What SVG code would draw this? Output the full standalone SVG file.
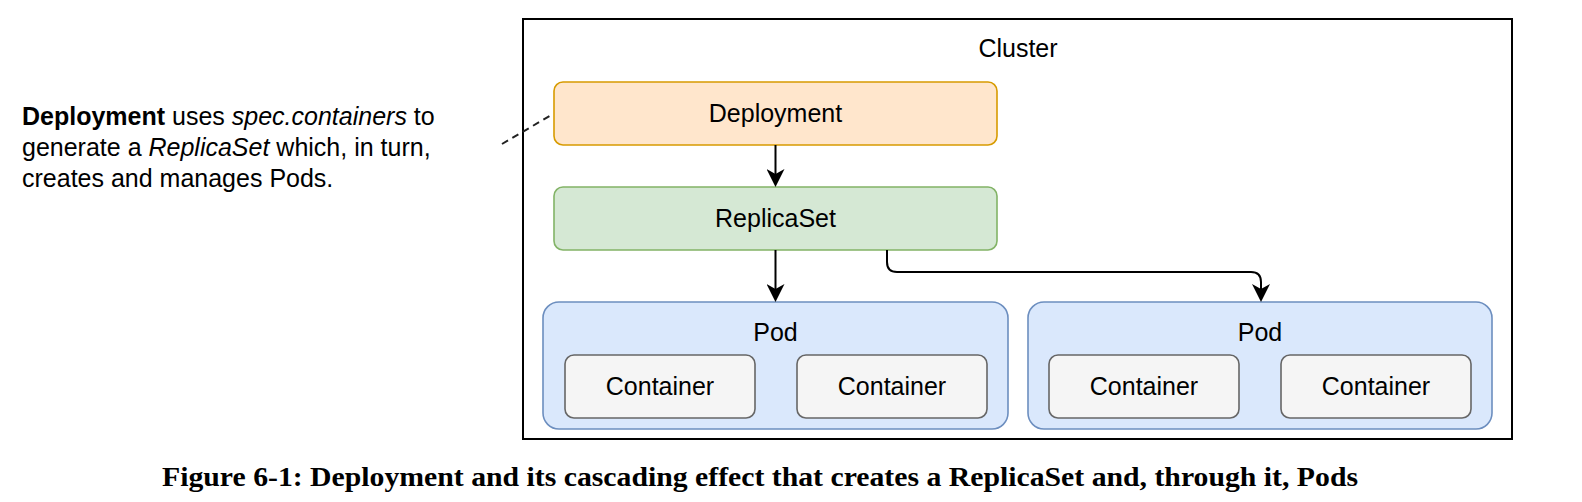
<svg xmlns="http://www.w3.org/2000/svg" width="1582" height="502" viewBox="0 0 1582 502">
  <style>
    .sans { font-family: "Liberation Sans", Arial, Helvetica, sans-serif; fill: #000; }
    .lbl { font-size: 25px; text-anchor: middle; }
    .note { font-size: 25px; }
    .cap { font-family: "Liberation Serif", "Times New Roman", serif; font-weight: bold; font-size: 27px; fill: #000; }
    .deploy { fill: #ffe6cc; stroke: #d79b00; stroke-width: 1.6; }
    .rs { fill: #d5e8d4; stroke: #82b366; stroke-width: 1.6; }
    .pod { fill: #dae8fc; stroke: #6c8ebf; stroke-width: 1.6; }
    .ctr { fill: #f5f5f5; stroke: #666666; stroke-width: 1.6; }
    .edge { fill: none; stroke: #000; stroke-width: 2; }
  </style>
  <defs>
    <marker id="arrow" viewBox="0 0 18 18" markerWidth="18" markerHeight="18" refX="12" refY="9" orient="auto" markerUnits="userSpaceOnUse">
      <path d="M0 0 L18 9 L0 18 L5 9 Z" fill="#000"/>
    </marker>
  </defs>
  <rect width="1582" height="502" fill="#fff"/>

  <g id="cluster">
    <rect x="523" y="19" width="989" height="420" fill="#fff" stroke="#000" stroke-width="2"/>
    <text class="sans lbl" x="1018" y="57">Cluster</text>
  </g>

  <g id="note">
    <text class="sans note" x="22" y="125"><tspan font-weight="bold">Deployment</tspan> uses <tspan font-style="italic">spec.containers</tspan> to</text>
    <text class="sans note" x="22" y="156">generate a <tspan font-style="italic">ReplicaSet</tspan> which, in turn,</text>
    <text class="sans note" x="22" y="187">creates and manages Pods.</text>
  </g>

  <g id="deployment">
    <rect class="deploy" x="554" y="82" width="443" height="63" rx="9"/>
    <text class="sans lbl" x="775.5" y="122">Deployment</text>
  </g>

  <g id="replicaset">
    <rect class="rs" x="554" y="187" width="443" height="63" rx="9"/>
    <text class="sans lbl" x="775.5" y="227">ReplicaSet</text>
  </g>

  <g id="pod1">
    <rect class="pod" x="543" y="302" width="465" height="127" rx="16"/>
    <text class="sans lbl" x="775.5" y="341">Pod</text>
  </g>
  <g id="pod1-container1">
    <rect class="ctr" x="565" y="355" width="190" height="63" rx="9"/>
    <text class="sans lbl" x="660" y="395">Container</text>
  </g>
  <g id="pod1-container2">
    <rect class="ctr" x="797" y="355" width="190" height="63" rx="9"/>
    <text class="sans lbl" x="892" y="395">Container</text>
  </g>

  <g id="pod2">
    <rect class="pod" x="1028" y="302" width="464" height="127" rx="16"/>
    <text class="sans lbl" x="1260" y="341">Pod</text>
  </g>
  <g id="pod2-container1">
    <rect class="ctr" x="1049" y="355" width="190" height="63" rx="9"/>
    <text class="sans lbl" x="1144" y="395">Container</text>
  </g>
  <g id="pod2-container2">
    <rect class="ctr" x="1281" y="355" width="190" height="63" rx="9"/>
    <text class="sans lbl" x="1376" y="395">Container</text>
  </g>

  <g id="connectors">
    <line x1="502" y1="144" x2="553" y2="114" stroke="#222" stroke-width="2" stroke-dasharray="7 5"/>
    <path class="edge" d="M775.5 145 V181" marker-end="url(#arrow)"/>
    <path class="edge" d="M775.5 250 V296" marker-end="url(#arrow)"/>
    <path class="edge" d="M887 250 V262 Q887 272 897 272 H1251 Q1261 272 1261 282 V296" marker-end="url(#arrow)"/>
  </g>

  <g id="caption">
    <text class="cap" x="162" y="486" textLength="1196" lengthAdjust="spacingAndGlyphs">Figure 6-1: Deployment and its cascading effect that creates a ReplicaSet and, through it, Pods</text>
  </g>
</svg>
